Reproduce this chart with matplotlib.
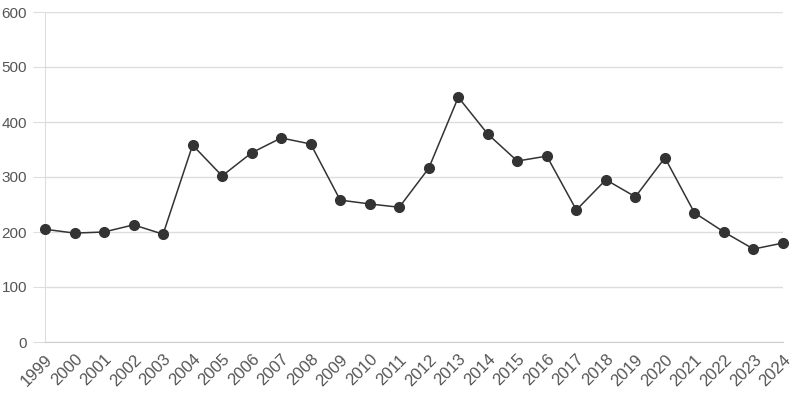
import matplotlib
matplotlib.use("Agg")
import matplotlib.pyplot as plt

years = [str(y) for y in range(1999, 2025)]
values = [205, 198, 200, 213, 196, 358, 302, 344, 371, 360, 258, 251, 245, 316,
          445, 378, 329, 338, 240, 295, 264, 335, 235, 200, 169, 180]
yticks = [0, 100, 200, 300, 400, 500, 600]

plt.rcParams['font.family'] = ['Liberation Sans', 'DejaVu Sans']

fig = plt.figure(figsize=(8, 4), dpi=100)
ax = fig.add_axes([0.05625, 0.145, 0.9225, 0.825])

x = list(range(len(years)))
ax.plot(x, values, color='#333333', linewidth=1.1, marker='o', markersize=7,
        markerfacecolor='#333333', markeredgecolor='#333333', zorder=3,
        clip_on=False)

ax.set_xlim(0, len(years) - 1)
ax.set_ylim(0, 600)
ax.set_yticks(yticks)
ax.set_xticks(x)
ax.set_xticklabels(years, rotation=45, ha='right', rotation_mode='anchor')

ax.grid(axis='y', color='#dddddd', linewidth=1)
ax.set_axisbelow(True)
for s in ['top', 'right']:
    ax.spines[s].set_visible(False)
ax.spines['left'].set_color('#dddddd')
ax.spines['bottom'].set_color('#cccccc')
ax.tick_params(axis='y', length=9, color='#dddddd', labelcolor='#555555', labelsize=11, pad=4)
ax.tick_params(axis='x', length=0, labelcolor='#555555', labelsize=12, pad=7)

fig.savefig('out.png', dpi=100)
